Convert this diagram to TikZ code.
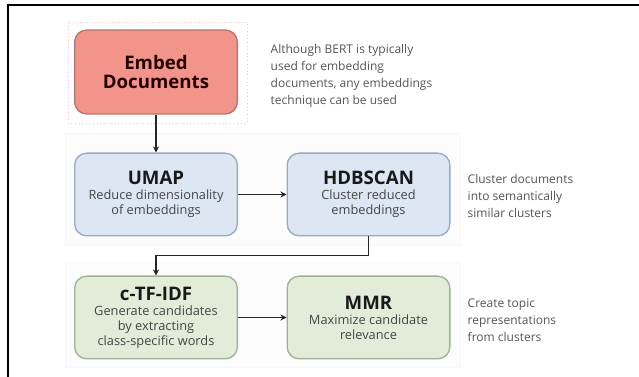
\documentclass[tikz,border=0pt]{standalone}
\usepackage{fontspec}
\setmainfont{Open Sans}
\usetikzlibrary{arrows.meta, positioning, calc}

\definecolor{embedfill}{HTML}{F2948A}
\definecolor{embedline}{HTML}{B07870}
\definecolor{umapfill}{HTML}{DDE7F3}
\definecolor{umapline}{HTML}{98AAC0}
\definecolor{ctfill}{HTML}{E2EDD9}
\definecolor{ctline}{HTML}{A0B296}
\definecolor{notegray}{HTML}{555555}
\definecolor{subgray}{HTML}{454545}

\begin{document}
\begin{tikzpicture}[
        x=0.75pt, y=-0.75pt,
        stage/.style={rectangle, draw, line width=1pt, rounded corners=9pt, minimum width=122pt, minimum height=62pt, align=center, inner sep=2pt, font=\fontsize{9.6}{11.2}\selectfont, text=subgray},
        note/.style={anchor=west, align=left, font=\fontsize{9}{12.6}\selectfont, text=notegray},
        panel/.style={draw=black!3, fill=black!1.2},
        flow/.style={-{Stealth[length=4.5pt, width=4.5pt]}, line width=1.4pt, draw=black!85}
    ]
        \useasboundingbox (0,0) rectangle (639,377);
        \draw[line width=1.6pt] (8,377) -- (8,5) -- (639,5);
        % background panels
        \draw[panel] (65,133) rectangle (460,245);
        \draw[panel] (65,262) rectangle (460,367);
        \draw[dotted, draw=red!25, line width=0.7pt] (68,22) rectangle (247,123);
        % stages
        \node[stage, fill=embedfill, draw=embedline, minimum height=63pt, text=black!85!red] (embed) at (156,72) {{\fontsize{14}{16}\selectfont\bfseries Embed}\\[3pt]{\fontsize{14}{16}\selectfont\bfseries Documents}};
        \node[stage, fill=umapfill, draw=umapline] (umap) at (156,194.5) {{\fontsize{14}{16}\selectfont\bfseries\color{black!90} UMAP}\\Reduce dimensionality\\of embeddings};
        \node[stage, fill=umapfill, draw=umapline] (hdbscan) at (368.5,194.5) {{\fontsize{14}{16}\selectfont\bfseries\color{black!90} HDBSCAN}\\Cluster reduced\\embeddings};
        \node[stage, fill=ctfill, draw=ctline] (ctfidf) at (156,317.5) {{\fontsize{14}{16}\selectfont\bfseries\color{black!90} c-TF-IDF}\\Generate candidates\\by extracting\\class-specific words};
        \node[stage, fill=ctfill, draw=ctline] (mmr) at (368.5,317.5) {{\fontsize{14}{16}\selectfont\bfseries\color{black!90} MMR}\\Maximize candidate\\relevance};
        % notes
        \node[note] (note1) at (266,76) {Although BERT is typically\\used for embedding\\documents, any embeddings\\technique can be used};
        \node[note] (note2) at (463,196) {Cluster documents\\into semantically\\similar clusters};
        \node[note] (note3) at (463,320) {Create topic\\representations\\from clusters};
        % connectors
        \coordinate (bend1) at ($(hdbscan.south)+(0,19)$);
        \coordinate (bend2) at ($(ctfidf.north)+(0,-20)$);
        \draw[flow] (embed) -- (umap);
        \draw[flow] (umap) -- (hdbscan);
        \draw[flow] (hdbscan.south) -- (bend1) -- (bend2) -- (ctfidf.north);
        \draw[flow] (ctfidf) -- (mmr);
    \end{tikzpicture}
\end{document}
